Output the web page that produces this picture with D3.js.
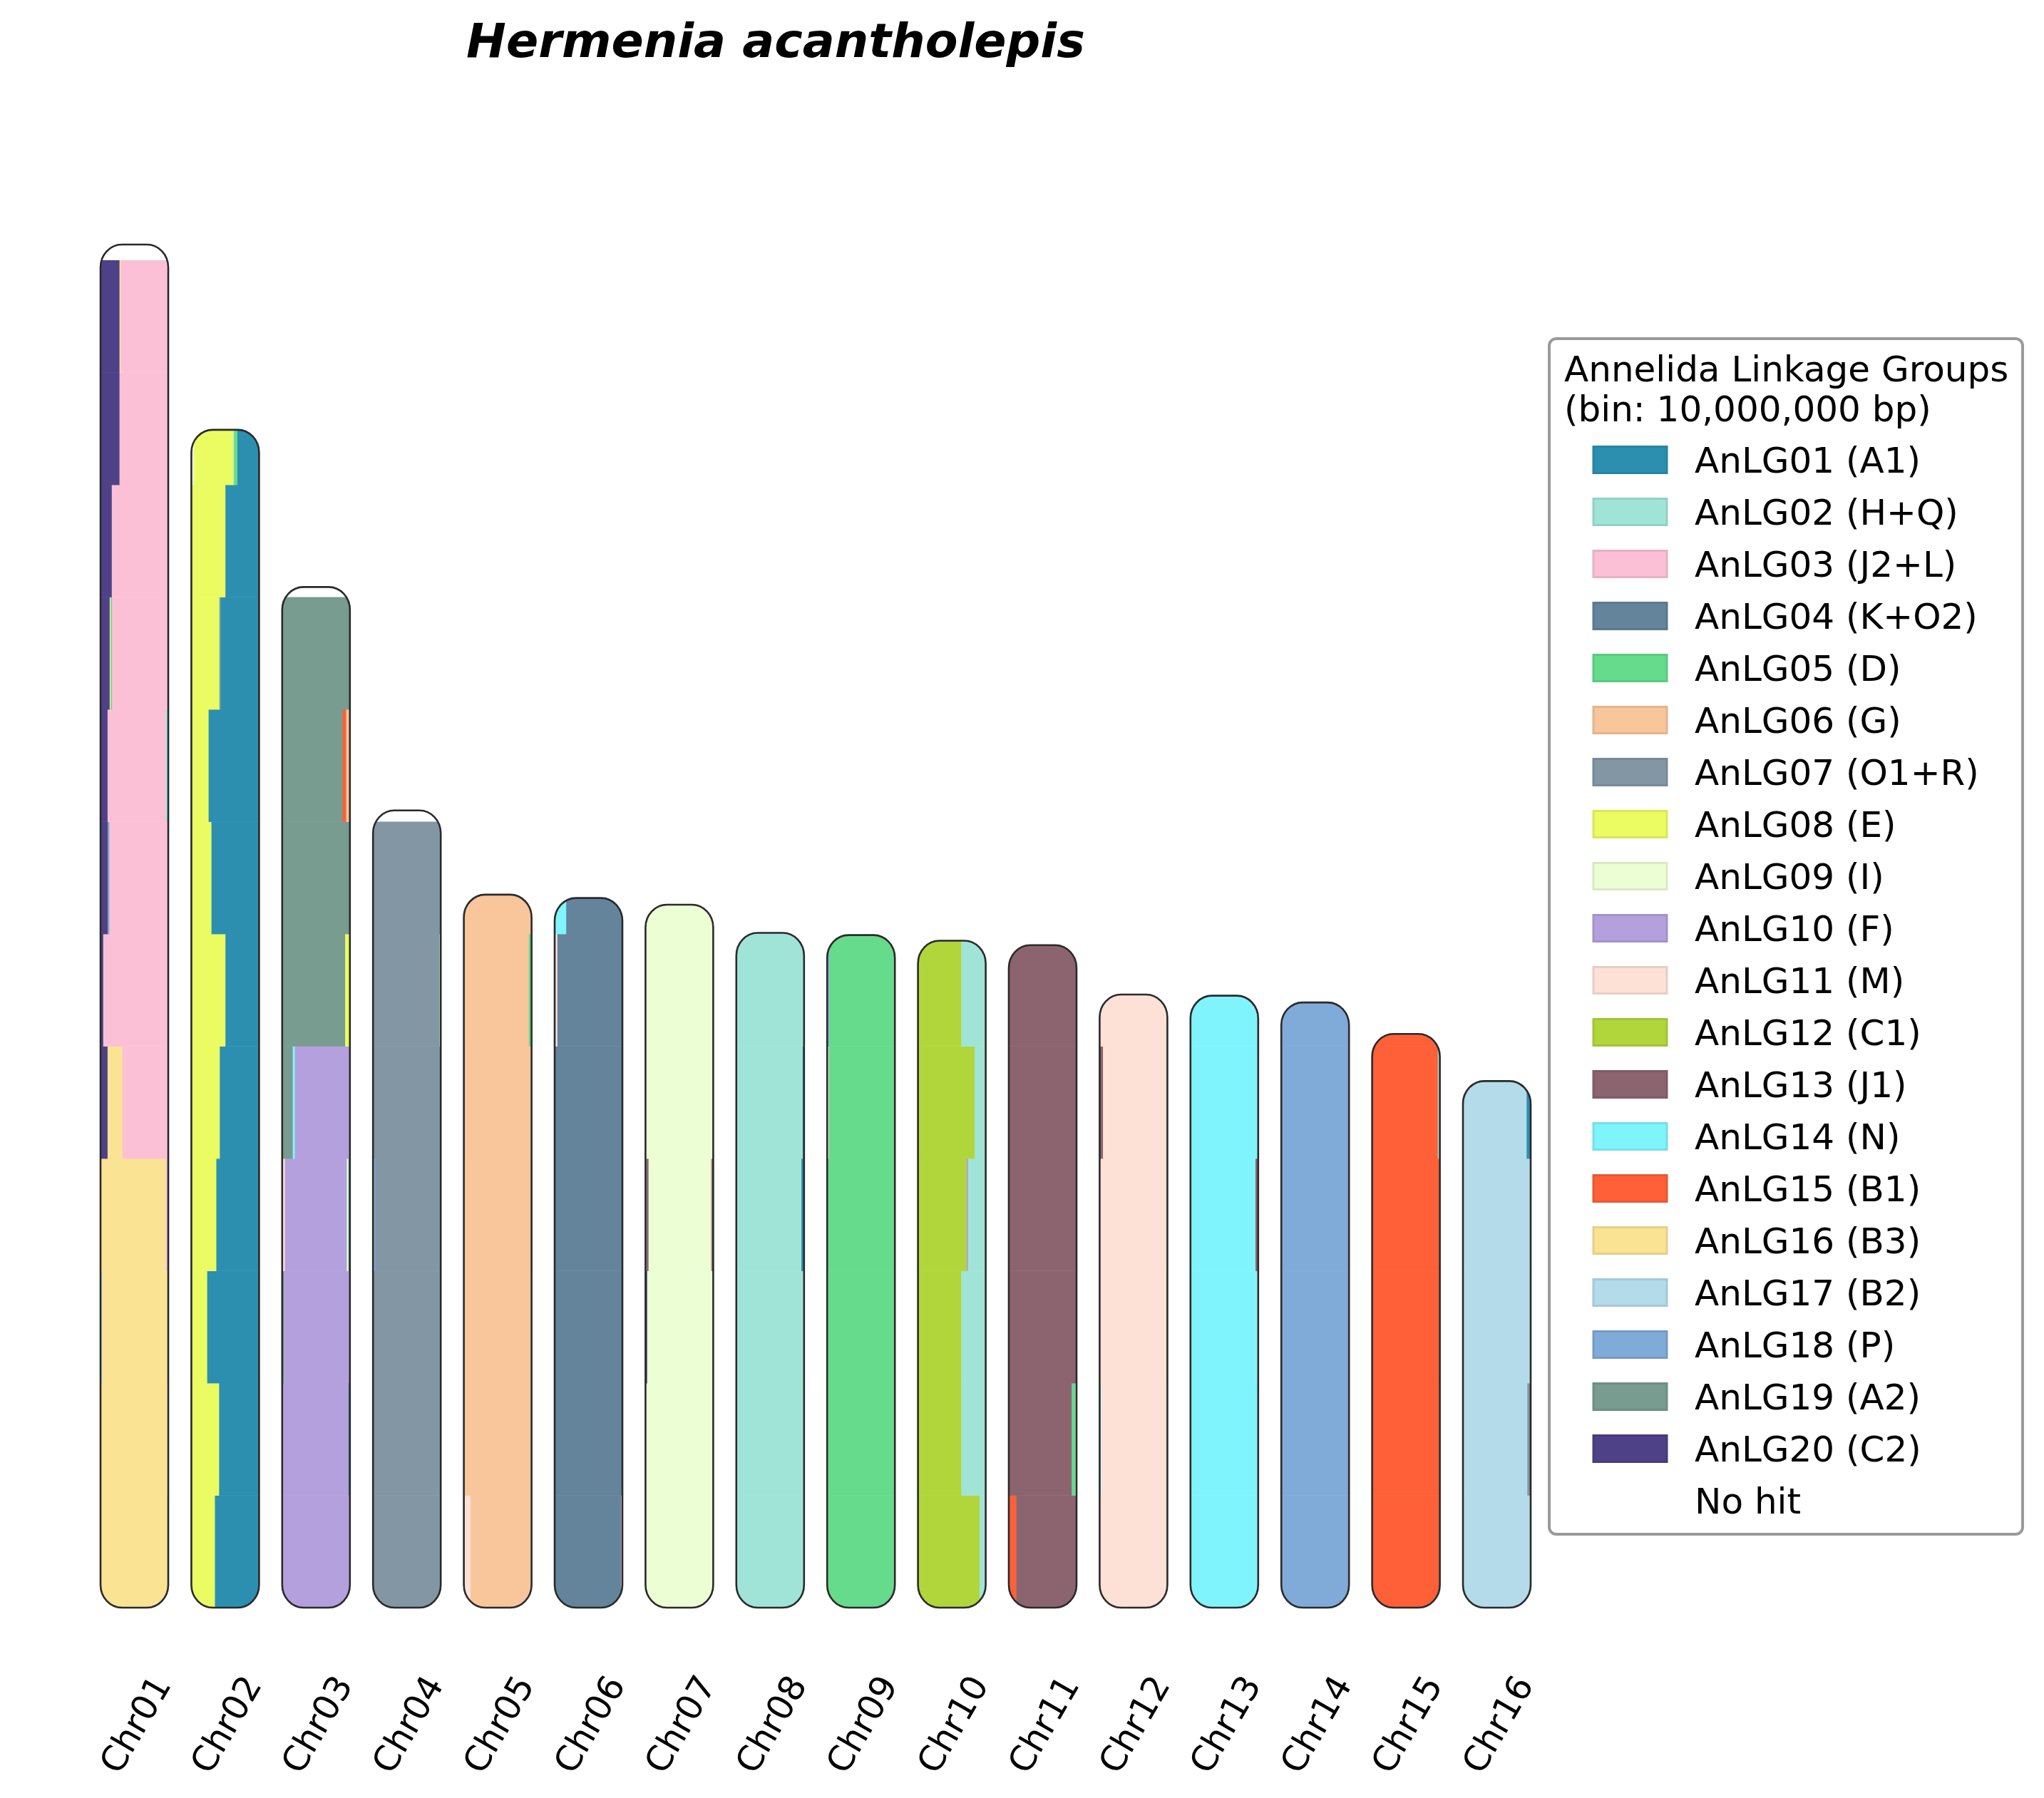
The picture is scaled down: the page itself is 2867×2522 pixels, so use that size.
<!DOCTYPE html>
<html>
<head>
<meta charset="utf-8">
<script src="https://cdn.jsdelivr.net/npm/d3@7"></script>
<style>
  html, body { margin: 0; padding: 0; background: #ffffff; }
  svg { display: block; }
</style>
</head>
<body>
<svg id="chart" width="2867" height="2522"></svg>
<script>
// ---------------- DATA ----------------
const chartTitle = "Hermenia acantholepis";
const legendTitle = ["Annelida Linkage Groups", "(bin: 10,000,000 bp)"];
const binSizeMb = 10;

const chromosomes = ["Chr01","Chr02","Chr03","Chr04","Chr05","Chr06","Chr07","Chr08",
                     "Chr09","Chr10","Chr11","Chr12","Chr13","Chr14","Chr15","Chr16"];
const chrLengthsMb = [121.4, 104.9, 90.9, 71.0, 63.5, 63.2, 62.6, 60.1,
                      59.9, 59.4, 59.0, 54.6, 54.5, 53.9, 51.1, 46.9];

const algNames = ["AnLG01 (A1)","AnLG02 (H+Q)","AnLG03 (J2+L)","AnLG04 (K+O2)","AnLG05 (D)",
                  "AnLG06 (G)","AnLG07 (O1+R)","AnLG08 (E)","AnLG09 (I)","AnLG10 (F)",
                  "AnLG11 (M)","AnLG12 (C1)","AnLG13 (J1)","AnLG14 (N)","AnLG15 (B1)",
                  "AnLG16 (B3)","AnLG17 (B2)","AnLG18 (P)","AnLG19 (A2)","AnLG20 (C2)"];
const algColors = ["#2c8fb0","#a0e4d8","#fcc0d6","#64849b","#66db8c",
                   "#f9c59b","#8296a4","#ebfc62","#ecffd4","#b3a0dd",
                   "#fde1d7","#b0d63c","#8c6470","#80f4fc","#ff6038",
                   "#fbe394","#b3dbea","#80aad8","#789c90","#4e4187"];
const noHitLabel = "No hit";

// Bins listed from 0 Mb upward; each bin = [ALG number, percent] left to right.
const chr01Bins = [
  [[16,100]], [[16,98.3],[11,1.7]], [[17,2.4],[16,97.6]], [[16,96.5],[3,3.5]],
  [[20,10.4],[16,21.8],[3,67.8]], [[20,4],[3,96]], [[20,11],[17,1],[1,1],[3,87]],
  [[20,10.4],[3,86],[2,3.6]], [[20,13.5],[16,1.7],[5,2],[3,82.8]], [[20,16.6],[3,83.4]],
  [[20,28],[3,72]], [[20,28],[16,2],[3,70]], []
];
const chr02Bins = [
  [[8,34.8],[1,65.2]], [[8,41],[1,59]], [[8,23.4],[1,76.6]], [[8,36.9],[1,63.1]],
  [[8,42],[1,58]], [[8,50.3],[1,49.7]], [[8,29.7],[1,70.3]], [[8,25.5],[1,74.5]],
  [[8,41.4],[7,1.7],[1,56.9]], [[18,1],[8,49.3],[1,49.7]],
  [[9,4],[8,58],[2,1],[5,5],[1,32]]
];
const chr03Bins = [
  [[10,100]], [[10,98],[1,2]], [[19,2.5],[10,97.5]], [[11,4],[10,91.5],[9,2.5],[1,2]],
  [[19,15.6],[14,3.1],[10,81.3]], [[19,93],[8,7]], [[19,100]],
  [[19,89.3],[15,5.2],[6,5.5]], [[19,100]], []
];
const chr04Bins = [
  [[7,100]], [[7,100]], [[7,100]], [[18,3],[7,97]], [[7,100]], [[7,98],[2,2]], [[7,100]], []
];
const chr05Bins = [
  [[16,2],[11,8],[6,90]], [[6,100]], [[6,100]], [[6,99],[19,1]], [[1,1],[6,99]],
  [[6,96],[5,3],[3,1]], [[6,100]]
];
const chr06Bins = [
  [[4,98],[3,2]], [[4,100]], [[4,99],[13,1]], [[4,100]], [[4,99],[1,1]],
  [[11,4],[4,96]], [[14,17],[4,83]]
];
const chr07Bins = [
  [[9,100]], [[9,100]], [[20,2.5],[9,97.5]], [[14,1.5],[13,3],[9,91.5],[6,1.5],[4,2.5]],
  [[9,100]], [[9,100]], [[9,100]]
];
const chr08Bins = [
  [[2,100]], [[2,100]], [[2,100]], [[2,96],[1,4]], [[2,98],[1,2]], [[9,1],[2,99]], [[2,100]]
];
const chr09Bins = [
  [[5,100]], [[3,1],[5,99]], [[14,1],[5,99]], [[10,1.5],[5,98.5]],
  [[13,1],[11,1.5],[5,97.5]], [[18,3],[5,97]]
];
const chr10Bins = [
  [[12,91],[2,9]], [[12,64],[2,36]], [[12,64],[2,36]], [[12,72],[10,2],[2,26]],
  [[15,1.5],[12,82.5],[2,16]], [[12,64],[2,36]]
];
const chr11Bins = [
  [[15,11],[13,89]], [[13,93],[5,5],[2,2]], [[13,100]], [[13,100]], [[13,100]], [[13,100]]
];
const chr12Bins = [
  [[11,99],[3,1]], [[14,2],[11,98]], [[11,99],[5,1]], [[11,100]], [[13,5],[11,95]], [[11,100]]
];
const chr13Bins = [
  [[14,100]], [[14,100]], [[14,98.5],[3,1.5]], [[14,96],[13,4]], [[14,100]], [[14,100]]
];
const chr14Bins = [
  [[18,100]], [[18,100]], [[18,100]], [[18,100]], [[18,100]], [[18,100]]
];
const chr15Bins = [
  [[15,100]], [[15,100]], [[15,100]], [[15,100]], [[15,97],[2,3]], [[15,97],[2,3]]
];
const chr16Bins = [
  [[17,100]], [[17,95],[7,5]], [[17,100]], [[17,99],[3,1]], [[17,94],[1,6]]
];
const chrBins = [chr01Bins, chr02Bins, chr03Bins, chr04Bins, chr05Bins, chr06Bins, chr07Bins,
                 chr08Bins, chr09Bins, chr10Bins, chr11Bins, chr12Bins, chr13Bins, chr14Bins,
                 chr15Bins, chr16Bins];

// ---------------- LAYOUT ----------------
const W = 2867, H = 2522;
const svg = d3.select("#chart");
svg.append("rect").attr("width", W).attr("height", H).attr("fill", "#ffffff");

const FONT = "'DejaVu Sans', 'Liberation Sans', sans-serif";
const bandStep = 127.4, bandW = 95;
const x = d3.scaleBand()
  .domain(chromosomes)
  .range([141 - (bandStep - bandW) / 2, 141 - (bandStep - bandW) / 2 + bandStep * chromosomes.length])
  .paddingInner(1 - bandW / bandStep)
  .paddingOuter((1 - bandW / bandStep) / 2);

const pxPerMb = 15.75;
const yBase = 2255;
const y = d3.scaleLinear().domain([0, 125]).range([yBase, yBase - 125 * pxPerMb]);

const colorOf = d3.scaleOrdinal().domain(d3.range(1, 21)).range(algColors);

const rx = 30, ry = 32;
const defs = svg.append("defs");

chromosomes.forEach((name, ci) => {
  const len = chrLengthsMb[ci];
  const x0 = x(name), bw = x.bandwidth();
  const top = y(len), bottom = y(0);
  const clipId = "clip-" + name;
  defs.append("clipPath").attr("id", clipId)
    .append("rect")
    .attr("x", x0).attr("y", top).attr("width", bw).attr("height", bottom - top)
    .attr("rx", rx).attr("ry", ry);

  const g = svg.append("g").attr("class", "chrom");
  g.append("rect")
    .attr("x", x0).attr("y", top).attr("width", bw).attr("height", bottom - top)
    .attr("rx", rx).attr("ry", ry).attr("fill", "#ffffff");

  const fillG = g.append("g").attr("clip-path", `url(#${clipId})`);
  const xf = d3.scaleLinear().domain([0, 1]).range([x0, x0 + bw]);

  chrBins[ci].forEach((bin, bi) => {
    if (!bin.length) return;
    const total = d3.sum(bin, d => d[1]);
    const ends = d3.cumsum(bin, d => d[1] / total);
    const binTop = y(Math.min((bi + 1) * binSizeMb, len));
    const binBot = y(bi * binSizeMb);
    bin.forEach((seg, si) => {
      const s = si === 0 ? 0 : ends[si - 1];
      const e = ends[si];
      fillG.append("rect")
        .attr("x", xf(s))
        .attr("y", binTop)
        .attr("width", Math.max(0, xf(e) - xf(s)) + 0.4)
        .attr("height", binBot - binTop + 0.4)
        .attr("fill", colorOf(seg[0]));
    });
  });

  g.append("rect")
    .attr("x", x0).attr("y", top).attr("width", bw).attr("height", bottom - top)
    .attr("rx", rx).attr("ry", ry)
    .attr("fill", "none").attr("stroke", "#2a2a2a").attr("stroke-width", 2.6);

  // x tick label rotated 60 degrees
  const cx = x0 + bw / 2, cy = 2418;
  svg.append("text")
    .attr("transform", `translate(${cx},${cy}) rotate(-60)`)
    .attr("text-anchor", "middle")
    .attr("dy", 18)
    .attr("font-family", FONT)
    .attr("font-size", 49)
    .attr("fill", "#000")
    .text(name);
});

// Title
svg.append("text")
  .attr("x", 1088).attr("y", 80)
  .attr("text-anchor", "middle")
  .attr("font-family", FONT)
  .attr("font-size", 66.7)
  .attr("font-weight", "bold")
  .attr("font-style", "italic")
  .attr("fill", "#000")
  .text(chartTitle);

// Legend
const lg = svg.append("g").attr("class", "legend");
lg.append("rect")
  .attr("x", 2173).attr("y", 475).attr("width", 664).attr("height", 1677)
  .attr("rx", 10).attr("ry", 10)
  .attr("fill", "#ffffff").attr("stroke", "#9a9a9a").attr("stroke-width", 4);

legendTitle.forEach((t, i) => {
  lg.append("text")
    .attr("x", 2194).attr("y", 535 + i * 56)
    .attr("font-family", FONT).attr("font-size", 50).attr("fill", "#000")
    .text(t);
});

const legendItems = algNames.map((n, i) => ({ label: n, color: algColors[i] }))
  .concat([{ label: noHitLabel, color: "#ffffff" }]);
const ly = d3.scaleLinear().domain([0, 1]).range([645, 718]);

legendItems.forEach((it, i) => {
  const cyL = ly(i);
  const isNoHit = it.label === noHitLabel;
  lg.append("rect")
    .attr("x", 2235).attr("y", cyL - 18.5).attr("width", 103).attr("height", 37)
    .attr("fill", it.color)
    .attr("stroke", isNoHit ? "#ffffff" : d3.color(it.color).darker(0.25).formatHex())
    .attr("stroke-width", 3);
  lg.append("text")
    .attr("x", 2377).attr("y", cyL + 18)
    .attr("font-family", FONT).attr("font-size", 50).attr("fill", "#000")
    .text(it.label);
});
</script>
</body>
</html>
